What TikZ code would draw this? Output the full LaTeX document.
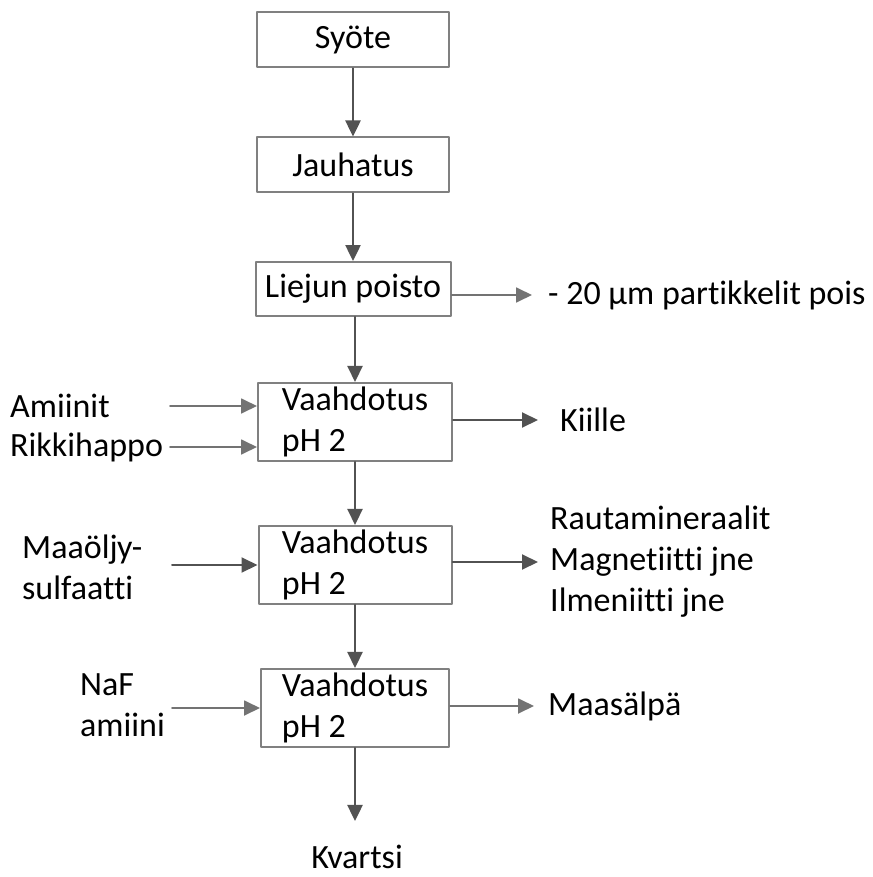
\documentclass[tikz,border=0pt]{standalone}
\usepackage{fontspec}
\setmainfont{Carlito}[Ligatures=NoCommon]
\usetikzlibrary{arrows.meta}

\begin{document}
\begin{tikzpicture}[x=1pt,y=-1pt,line cap=round,line join=round,
  >={Triangle[length=16pt,width=15pt]},
  every node/.style={font=\fontsize{34}{41}\selectfont,inner sep=4pt},
  vaihe/.style={draw=black!50,line width=2pt,minimum width=192pt,align=left},
  virta/.style={->,draw=black!68,line width=2.5pt},
  sivu/.style={->,draw=black!55,line width=1.8pt},
  teksti/.style={anchor=west,align=left}]
\useasboundingbox (0,0) rectangle (872,877);
% prosessin vaiheet
\node[vaihe,minimum height=55pt] (syote) at (353,40) {Sy\"ote};
\node[vaihe,minimum height=55pt] (jauhatus) at (353,165) {Jauhatus};
\node[vaihe,minimum height=54pt,minimum width=195pt] (liejun) at (353,289) {Liejun poisto};
\node[vaihe,minimum height=75pt,minimum width=194pt] (vaah1) at (355,422) {Vaahdotus\\pH 2};
\node[vaihe,minimum height=70pt,minimum width=193pt] (vaah2) at (355,565) {Vaahdotus\\pH 2};
\node[vaihe,minimum height=73pt,minimum width=188pt] (vaah3) at (355,708) {Vaahdotus\\pH 2};
% syotteet ja tuotteet
\node[teksti] (pois) at (544,295) {- 20 \textmu m partikkelit pois};
\node[teksti] (amiinit) at (6,406) {Amiinit};
\node[teksti] (rikki) at (6,447) {Rikkihappo};
\node[teksti] (kiille) at (556,420) {Kiille};
\node[teksti] (maaoljy) at (18,567) {Maa\"olj\kern-0.5pt y-\\sulfaatti};
\node[teksti] (rauta) at (546,562) {Rautamineraalit\\Magnetiitti jne\\Ilmeniitti jne};
\node[teksti] (naf) at (76,705) {NaF\\amiini};
\node[teksti] (maasalpa) at (544,706) {Maas\"alp\"a};
\node (kvartsi) at (357,857) {Kvartsi};
\coordinate (a1) at (170,406);
\coordinate (a2) at (170,447);
\coordinate (a3) at (172,565);
\coordinate (a4) at (172,708);
% nuolet
\draw[virta] (syote) -- (jauhatus);
\draw[virta] (jauhatus) -- (liejun);
\draw[virta] (liejun.south -| vaah1) -- (vaah1);
\draw[virta] (vaah1) -- (vaah2);
\draw[virta] (vaah2) -- (vaah3);
\draw[virta,shorten >=20pt] (vaah3) -- (vaah3 |- kvartsi.north);
\draw[sivu,shorten >=12pt] (liejun.east |- pois) -- (pois);
\draw[sivu] (a1) -- (a1 -| vaah1.west);
\draw[sivu] (a2) -- (a2 -| vaah1.west);
\draw[virta,line width=2pt,shorten >=18pt] (vaah1.east |- kiille) -- (kiille);
\draw[virta,line width=2pt] (a3) -- (a3 -| vaah2.west);
\draw[virta,line width=2pt,shorten >=8pt] (vaah2.east |- rauta) -- (rauta);
\draw[sivu] (a4) -- (a4 -| vaah3.west);
\draw[sivu,shorten >=10pt] (vaah3.east |- maasalpa) -- (maasalpa);
\end{tikzpicture}
\end{document}
